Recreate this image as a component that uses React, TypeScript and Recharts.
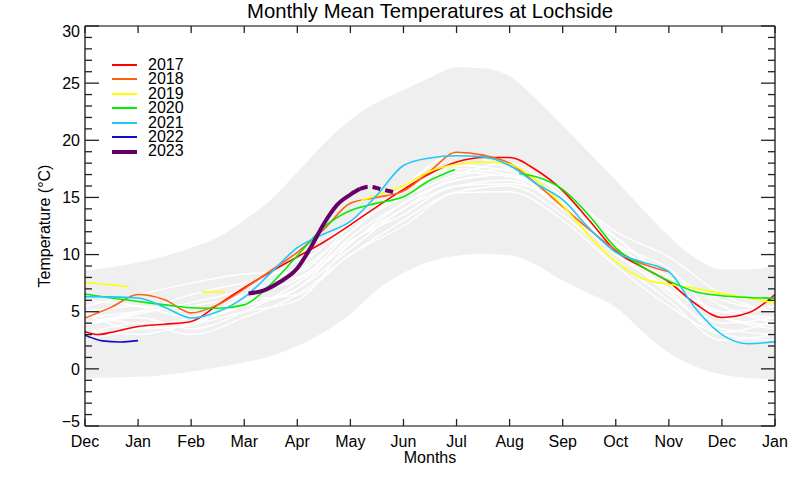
import React from 'react';
import { ComposedChart, Area, Line, XAxis, YAxis } from 'recharts';

const MONTHS = ['Dec', 'Jan', 'Feb', 'Mar', 'Apr', 'May', 'Jun', 'Jul', 'Aug', 'Sep', 'Oct', 'Nov', 'Dec', 'Jan'];
const MONTH_TICKS = MONTHS.map((_, i) => i);
const TEMP_TICKS = Array.from({ length: 36 }, (_, i) => i - 5);

// envelope of all years (min / max)
const BAND_M = [0, 1, 2, 2.5, 3, 3.5, 4, 4.5, 5, 5.5, 6, 6.5, 7, 7.5, 8, 8.5, 9, 9.5, 10, 10.5, 11, 11.5, 12, 12.5, 13];
const BAND_LOW = [-0.8, -0.7, -0.25, 0.15, 0.55, 1.1, 2.0, 3.2, 4.8, 6.9, 8.4, 9.4, 9.9, 10.05, 9.95, 9.1, 7.7, 6.6, 5.4, 3.3, 1.4, 0.2, -0.5, -0.8, -0.9];
const BAND_HIGH = [8.6, 9.3, 10.6, 11.5, 13.0, 14.8, 17.2, 19.7, 21.8, 23.3, 24.4, 25.5, 26.4, 26.3, 25.6, 23.6, 21.3, 18.9, 16.5, 14.0, 11.6, 9.7, 8.7, 8.7, 9.0];

const HALF_M = Array.from({ length: 27 }, (_, i) => i / 2);
const MONTH_M = MONTHS.map((_, i) => i);

const M2017 = [0, 0.25, 0.5, 1, 1.5, 2, 2.5, 3, 3.5, 4, 4.5, 5, 5.5, 6, 6.5, 7, 7.5, 8, 8.5, 9, 9.5, 10, 10.5, 11, 11.5, 12, 12.5, 13];
const T2017 = [3.25, 3.0, 3.2, 3.7, 3.9, 4.15, 5.6, 7.1, 8.5, 9.8, 11.1, 12.6, 14.2, 15.7, 17.1, 18.1, 18.5, 18.5, 17.4, 15.6, 13.0, 10.3, 8.9, 7.6, 5.7, 4.5, 4.9, 6.5];

const M2018 = HALF_M.slice(0, 23);
const T2018 = [4.45, 5.4, 6.5, 6.05, 4.9, 5.6, 7.0, 8.6, 10.2, 12.2, 14.5, 15.0, 15.55, 17.3, 18.95, 18.7, 18.0, 16.2, 14.2, 12.2, 10.4, 9.2, 8.5];

const M2019A = [0, 0.82];
const T2019A = [7.55, 7.2];
const M2019B = [2.2, 2.64];
const T2019B = [6.75, 6.7];
const M2019C = [5.2, 5.5, 6, 6.5, 7, 7.5, 8, 8.5, 9, 9.5, 10, 10.5, 11, 11.5, 12, 12.5, 13];
const T2019C = [14.7, 15.2, 16.0, 17.3, 17.9, 18.1, 17.9, 16.5, 14.3, 11.6, 9.4, 7.9, 7.4, 7.05, 6.6, 6.2, 5.75];

const M2020A = [0, 0.5, 1, 1.5, 2, 2.5, 3, 3.5, 4, 4.5, 5, 5.5, 6, 6.5, 6.97];
const T2020A = [6.55, 6.2, 5.9, 5.6, 5.35, 5.3, 5.6, 7.4, 9.9, 12.4, 13.85, 14.5, 15.05, 16.5, 17.45];
const M2020B = [8.18, 8.5, 9, 9.5, 10, 10.5, 11, 11.5, 12, 12.5, 13];
const T2020B = [17.1, 16.8, 15.7, 13.4, 10.6, 8.95, 7.7, 6.75, 6.4, 6.25, 6.18];

const M2021 = HALF_M;
const T2021 = [6.32, 6.3, 6.2, 5.4, 4.45, 5.0, 6.25, 8.4, 10.6, 11.8, 12.9, 15.2, 17.8, 18.45, 18.65, 18.55, 17.8, 16.2, 14.8, 12.3, 10.2, 9.35, 8.5, 5.3, 3.0, 2.2, 2.38];

const M2022 = [0, 0.33, 0.66, 1.0];
const T2022 = [2.95, 2.45, 2.35, 2.47];

const M2023 = [3.08, 3.36, 3.67, 4.0, 4.25, 4.5, 4.75, 5.0, 5.18];
const T2023 = [6.6, 6.85, 7.6, 8.8, 10.6, 12.7, 14.35, 15.25, 15.75];
const M2023_PROV = [5.18, 5.35, 5.6, 5.87];
const T2023_PROV = [15.75, 15.95, 15.7, 15.4];

// earlier years, one value per month
const OLDER_YEARS = [
  [4.0, 4.5, 3.5, 5.0, 7.5, 11.0, 14.5, 16.5, 17.0, 14.5, 10.5, 6.5, 3.5, 3.0],
  [5.0, 5.5, 5.0, 6.0, 8.5, 12.0, 15.5, 17.5, 17.0, 15.0, 11.0, 7.5, 5.0, 4.5],
  [3.5, 3.0, 4.0, 5.5, 7.0, 10.5, 14.0, 16.0, 16.5, 14.0, 10.0, 7.0, 4.5, 3.5],
  [5.5, 6.5, 7.5, 8.3, 8.5, 12.5, 16.0, 18.8, 17.5, 15.5, 11.5, 8.0, 6.0, 5.0],
  [3.0, 4.0, 3.0, 4.5, 6.5, 10.0, 13.0, 15.5, 16.0, 13.5, 9.5, 6.0, 2.5, 3.0],
  [4.5, 5.0, 5.5, 6.5, 9.0, 12.5, 15.0, 17.0, 18.0, 15.0, 10.5, 8.5, 5.5, 4.0],
  [6.0, 5.5, 4.5, 5.5, 7.0, 11.5, 14.5, 16.5, 17.0, 14.0, 11.5, 7.5, 4.0, 4.5],
  [2.5, 3.5, 4.5, 6.0, 6.5, 10.0, 12.5, 15.4, 15.5, 13.0, 9.0, 5.5, 3.0, 2.5],
  [4.0, 5.0, 6.5, 7.5, 8.0, 12.0, 15.5, 17.2, 16.8, 14.8, 10.8, 7.0, 5.0, 5.5],
  [5.0, 4.0, 4.0, 5.0, 6.0, 11.0, 14.0, 16.8, 17.5, 15.5, 12.0, 9.8, 6.5, 5.0],
  [3.8, 4.8, 5.8, 7.0, 9.5, 12.8, 15.8, 17.8, 17.3, 15.8, 11.0, 8.8, 4.5, 3.8],
  [4.8, 3.5, 3.8, 6.5, 7.8, 11.2, 13.5, 16.0, 16.2, 14.5, 10.2, 6.8, 3.2, 4.2],
];

const YEARS = ['2017', '2018', '2019', '2020', '2021', '2022', '2023'];
const COLORS = ['#ff0000', '#ff6010', '#ffff00', '#00ee00', '#20c8f8', '#1010cc', '#660066'];

const pts = (ms: number[], vs: number[]) => ms.map((m, i) => ({ m, v: vs[i] }));

const bandData = BAND_M.map((m, i) => ({ m, range: [BAND_LOW[i], BAND_HIGH[i]] }));

const yearLines = [
  { key: '2017', color: COLORS[0], data: pts(M2017, T2017) },
  { key: '2018', color: COLORS[1], data: pts(M2018, T2018) },
  { key: '2019a', color: COLORS[2], data: pts(M2019A, T2019A) },
  { key: '2019b', color: COLORS[2], data: pts(M2019B, T2019B) },
  { key: '2019c', color: COLORS[2], data: pts(M2019C, T2019C) },
  { key: '2020a', color: COLORS[3], data: pts(M2020A, T2020A) },
  { key: '2020b', color: COLORS[3], data: pts(M2020B, T2020B) },
  { key: '2021', color: COLORS[4], data: pts(M2021, T2021) },
  { key: '2022', color: COLORS[5], data: pts(M2022, T2022) },
];

const FONT = "'Liberation Sans', Arial, Helvetica, sans-serif";
const TICK = '#222';

const BottomTick = (props: any) => {
  const { x, y, payload } = props;
  return (
    <g>
      <line x1={x} y1={y} x2={x} y2={y - 7} stroke={TICK} strokeWidth={1.3} />
      <text x={x} y={y + 21} textAnchor="middle" fontSize={16} fill="#000">{MONTHS[payload.value]}</text>
    </g>
  );
};

const TopTick = (props: any) => {
  const { x, y } = props;
  return <line x1={x} y1={y} x2={x} y2={y + 7} stroke={TICK} strokeWidth={1.3} />;
};

const LeftTick = (props: any) => {
  const { x, y, payload } = props;
  const v = payload.value;
  const major = v % 5 === 0;
  let shift = 0;
  if (v === 30) shift = 5;
  if (v === -5) shift = -5;
  return (
    <g>
      <line x1={x} y1={y} x2={x + (major ? 14 : 7)} y2={y} stroke={TICK} strokeWidth={1.3} />
      {major && (
        <text x={x - 5} y={y + shift} dy="0.355em" textAnchor="end" fontSize={16} fill="#000">
          {v < 0 ? '\u2212' + Math.abs(v) : v}
        </text>
      )}
    </g>
  );
};

const RightTick = (props: any) => {
  const { x, y, payload } = props;
  const major = payload.value % 5 === 0;
  return <line x1={x} y1={y} x2={x - (major ? 14 : 7)} y2={y} stroke={TICK} strokeWidth={1.3} />;
};

export default function App() {
  return (
    <div style={{ position: 'absolute', left: 0, top: 0, width: 800, height: 480, background: 'white', fontFamily: FONT }}>
      <div style={{ position: 'absolute', left: 85, top: 1, width: 690, textAlign: 'center', fontSize: 20.3, lineHeight: '20px', color: '#000' }}>
        Monthly Mean Temperatures at Lochside
      </div>

      <ComposedChart width={800} height={480} margin={{ top: 25, right: 24, bottom: 0, left: 0 }}>
        <XAxis
          xAxisId="bottom"
          dataKey="m"
          type="number"
          domain={[0, 13]}
          allowDataOverflow
          ticks={MONTH_TICKS}
          interval={0}
          height={54}
          tickSize={0}
          tickMargin={0}
          tickLine={false}
          tick={<BottomTick />}
          axisLine={{ stroke: '#000', strokeWidth: 1.2 }}
          label={{ value: 'Months', position: 'insideBottom', offset: 17, fill: '#000', fontSize: 16 }}
        />
        <XAxis
          xAxisId="top"
          orientation="top"
          dataKey="m"
          type="number"
          domain={[0, 13]}
          allowDataOverflow
          ticks={MONTH_TICKS}
          interval={0}
          height={1}
          tickSize={0}
          tickMargin={0}
          tickLine={false}
          tick={<TopTick />}
          axisLine={{ stroke: '#000', strokeWidth: 1.2 }}
        />
        <YAxis
          yAxisId="left"
          type="number"
          domain={[-5, 30]}
          allowDataOverflow
          ticks={TEMP_TICKS}
          interval={0}
          width={85}
          tickSize={0}
          tickMargin={0}
          tickLine={false}
          tick={<LeftTick />}
          axisLine={{ stroke: '#000', strokeWidth: 1.2 }}
          label={{ value: 'Temperature (\u00B0C)', angle: -90, position: 'center', dx: 2, fill: '#000', fontSize: 16 }}
        />
        <YAxis
          yAxisId="right"
          orientation="right"
          type="number"
          domain={[-5, 30]}
          allowDataOverflow
          ticks={TEMP_TICKS}
          interval={0}
          width={1}
          tickSize={0}
          tickMargin={0}
          tickLine={false}
          tick={<RightTick />}
          axisLine={{ stroke: '#000', strokeWidth: 1.2 }}
        />

        <Area
          xAxisId="top"
          yAxisId="right"
          data={bandData}
          dataKey="range"
          type="monotone"
          fill="#efefef"
          fillOpacity={1}
          stroke="none"
          isAnimationActive={false}
          activeDot={false}
        />

        {OLDER_YEARS.map((vals, i) => (
          <Line
            key={`old-${i}`}
            xAxisId="bottom"
            yAxisId="left"
            data={pts(MONTH_M, vals)}
            dataKey="v"
            type="monotone"
            stroke="#ffffff"
            strokeWidth={1.4}
            dot={false}
            activeDot={false}
            isAnimationActive={false}
          />
        ))}

        {yearLines.map((s) => (
          <Line
            key={s.key}
            xAxisId="bottom"
            yAxisId="left"
            data={s.data}
            dataKey="v"
            type="monotone"
            stroke={s.color}
            strokeWidth={1.6}
            dot={false}
            activeDot={false}
            isAnimationActive={false}
          />
        ))}

        <Line
          xAxisId="bottom"
          yAxisId="left"
          data={pts(M2023, T2023)}
          dataKey="v"
          type="monotone"
          stroke={COLORS[6]}
          strokeWidth={4}
          dot={false}
          activeDot={false}
          isAnimationActive={false}
        />
        <Line
          xAxisId="bottom"
          yAxisId="left"
          data={pts(M2023_PROV, T2023_PROV)}
          dataKey="v"
          type="monotone"
          stroke={COLORS[6]}
          strokeWidth={4}
          strokeDasharray="8 5"
          dot={false}
          activeDot={false}
          isAnimationActive={false}
        />
      </ComposedChart>

      <div style={{ position: 'absolute', left: 112, top: 57.8, zIndex: 1 }}>
        {YEARS.map((yr, i) => (
          <div key={yr} style={{ display: 'flex', alignItems: 'center', height: 14.45 }}>
            <div style={{ width: 25, height: i === 6 ? 4 : 2, background: COLORS[i] }} />
            <div style={{ marginLeft: 11, height: 14.45, fontSize: 16, lineHeight: '14.45px', color: '#000' }}>{yr}</div>
          </div>
        ))}
      </div>
    </div>
  );
}
